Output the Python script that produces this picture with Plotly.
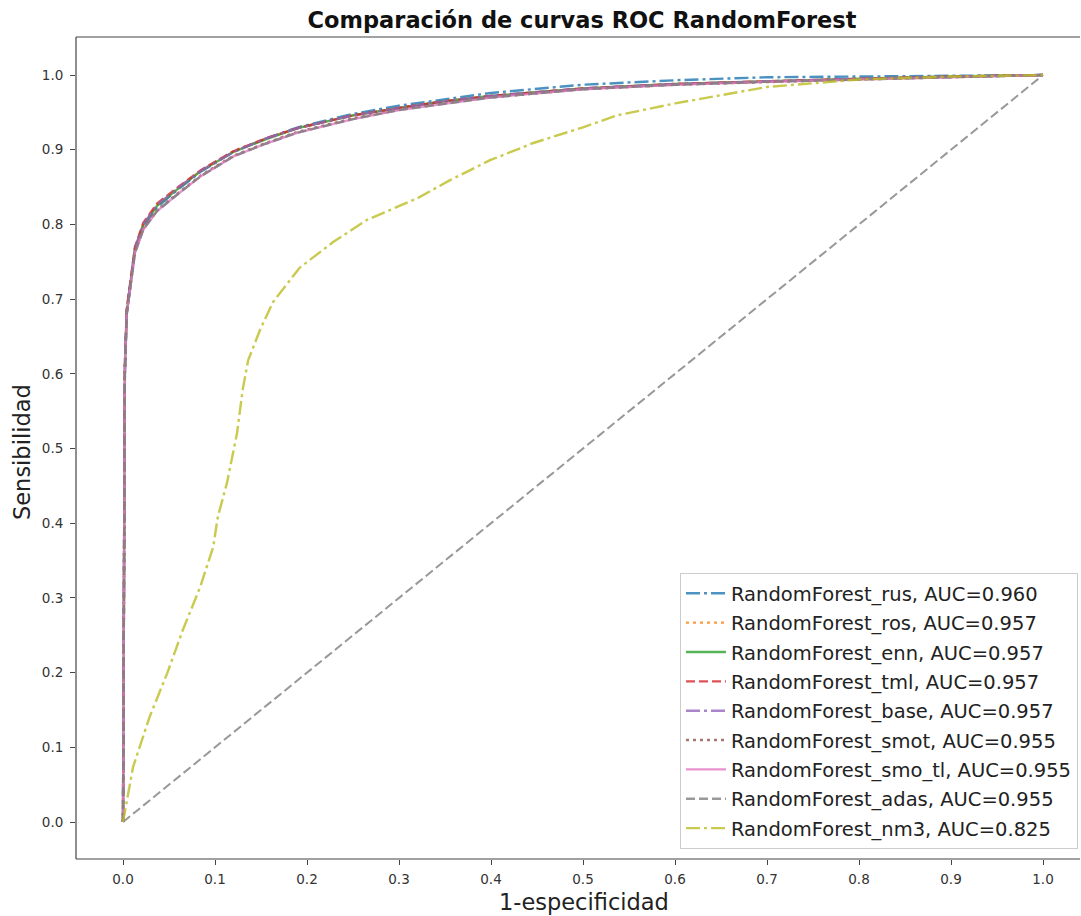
import plotly.graph_objects as go

# ROC curves for RandomForest with different resampling strategies
fpr = [0, 0.001, 0.002, 0.004, 0.008, 0.013, 0.022, 0.037, 0.06, 0.085, 0.12,
       0.155, 0.19, 0.25, 0.3, 0.35, 0.4, 0.5, 0.6, 0.7, 0.8, 0.9, 1.0]

tpr_rus = [0, 0.40, 0.60, 0.680, 0.720, 0.765, 0.797, 0.823, 0.847, 0.871, 0.897,
           0.915, 0.930, 0.948, 0.959, 0.968, 0.976, 0.987, 0.993, 0.997, 0.998, 0.999, 1.0]
tpr_ros = [0, 0.41, 0.61, 0.685, 0.722, 0.768, 0.800, 0.826, 0.849, 0.872, 0.898,
           0.915, 0.929, 0.946, 0.956, 0.965, 0.972, 0.982, 0.988, 0.992, 0.995, 0.998, 1.0]
tpr_enn = [0, 0.40, 0.60, 0.683, 0.721, 0.767, 0.799, 0.825, 0.848, 0.872, 0.897,
           0.914, 0.929, 0.946, 0.956, 0.965, 0.972, 0.982, 0.988, 0.992, 0.995, 0.998, 1.0]
tpr_tml = [0, 0.41, 0.61, 0.686, 0.724, 0.770, 0.802, 0.828, 0.850, 0.873, 0.898,
           0.915, 0.929, 0.946, 0.956, 0.965, 0.972, 0.982, 0.988, 0.992, 0.995, 0.998, 1.0]
tpr_base = [0, 0.40, 0.61, 0.684, 0.722, 0.768, 0.800, 0.826, 0.849, 0.872, 0.897,
            0.915, 0.929, 0.946, 0.956, 0.965, 0.972, 0.982, 0.988, 0.992, 0.995, 0.998, 1.0]
tpr_smot = [0, 0.40, 0.60, 0.680, 0.719, 0.763, 0.794, 0.819, 0.842, 0.866, 0.892,
            0.909, 0.924, 0.942, 0.954, 0.963, 0.970, 0.981, 0.987, 0.991, 0.994, 0.997, 1.0]
tpr_smo_tl = [0, 0.40, 0.60, 0.679, 0.718, 0.762, 0.793, 0.818, 0.841, 0.865, 0.891,
              0.908, 0.923, 0.941, 0.953, 0.962, 0.970, 0.981, 0.987, 0.991, 0.994, 0.997, 1.0]
tpr_adas = [0, 0.40, 0.60, 0.680, 0.718, 0.762, 0.793, 0.818, 0.841, 0.865, 0.891,
            0.908, 0.923, 0.941, 0.953, 0.962, 0.970, 0.981, 0.987, 0.991, 0.994, 0.997, 1.0]

fpr_nm3 = [0, 0.011, 0.029, 0.048, 0.065, 0.084, 0.098, 0.103, 0.113, 0.124, 0.130,
           0.136, 0.149, 0.163, 0.192, 0.228, 0.265, 0.32, 0.355, 0.399, 0.446, 0.5,
           0.537, 0.6, 0.7, 0.8, 0.9, 1.0]
tpr_nm3 = [0, 0.074, 0.141, 0.199, 0.257, 0.315, 0.368, 0.408, 0.454, 0.521, 0.578,
           0.618, 0.659, 0.696, 0.742, 0.776, 0.806, 0.835, 0.859, 0.886, 0.909, 0.930,
           0.946, 0.962, 0.984, 0.994, 0.998, 1.0]

models = ["RandomForest_rus", "RandomForest_ros", "RandomForest_enn", "RandomForest_tml",
          "RandomForest_base", "RandomForest_smot", "RandomForest_smo_tl",
          "RandomForest_adas", "RandomForest_nm3"]
auc_values = [0.960, 0.957, 0.957, 0.957, 0.957, 0.955, 0.955, 0.955, 0.825]

x_ticks = [0.0, 0.1, 0.2, 0.3, 0.4, 0.5, 0.6, 0.7, 0.8, 0.9, 1.0]
y_ticks = [0.0, 0.1, 0.2, 0.3, 0.4, 0.5, 0.6, 0.7, 0.8, 0.9, 1.0]

curves = [
    (fpr, tpr_rus), (fpr, tpr_ros), (fpr, tpr_enn), (fpr, tpr_tml), (fpr, tpr_base),
    (fpr, tpr_smot), (fpr, tpr_smo_tl), (fpr, tpr_adas), (fpr_nm3, tpr_nm3),
]
colors = ["#1f77b4", "#ff7f0e", "#2ca02c", "#d62728", "#9467bd",
          "#8c564b", "#e377c2", "#7f7f7f", "#bcbd22"]
DASHDOT = "14px,4px,3px,4px"
DOT = "3px,4px"
DASH = "9px,4px"
dashes = [DASHDOT, DOT, "solid", DASH, DASHDOT, DOT, "solid", DASH, DASHDOT]

FONT = "DejaVu Sans"
W, H = 1081, 916
L, R, T, B = 76, 1, 37, 57
plot_w, plot_h = W - L - R, H - T - B

fig = go.Figure()

# chance diagonal
fig.add_trace(go.Scatter(
    x=[0, 1], y=[0, 1], mode="lines", showlegend=False, hoverinfo="skip",
    line=dict(color="#7f7f7f", width=2, dash=DASH), opacity=0.8,
))

for name, auc, (xs, ys), col, dsh in zip(models, auc_values, curves, colors, dashes):
    fig.add_trace(go.Scatter(
        x=xs, y=ys, mode="lines", name=f"{name}, AUC={auc:.3f}", legendgroup=name,
        line=dict(color=col, width=2.4, dash=dsh), opacity=0.8,
    ))

spine = dict(type="line", xref="paper", yref="paper",
             line=dict(color="#444444", width=1.2), layer="above")
axis_common = dict(ticks="outside", ticklen=5, tickcolor="#444444", tickwidth=1,
                   showgrid=False, zeroline=False, showline=False,
                   tickfont=dict(family=FONT, size=13.5, color="#333333"))

fig.update_layout(
    width=W, height=H,
    margin=dict(l=L, r=R, t=T, b=B),
    paper_bgcolor="white", plot_bgcolor="white",
    font=dict(family=FONT, color="#333333"),
    title=dict(text="<b>Comparación de curvas ROC RandomForest</b>",
               x=582 / W, xanchor="center", y=1 - 20 / H, yanchor="middle",
               yref="container", font=dict(family=FONT, size=22.5, color="#111111")),
    xaxis=dict(axis_common, range=[-0.0511, 1.0402], tickvals=x_ticks,
               ticktext=[f"{v:.1f}" for v in x_ticks], ticklabelstandoff=3),
    yaxis=dict(axis_common, range=[-0.0495, 1.0509], tickvals=y_ticks,
               ticktext=[f"{v:.1f}" for v in y_ticks], ticklabelstandoff=4),
    legend=dict(x=0.998, y=0.012, xanchor="right", yanchor="bottom",
                bgcolor="rgba(255,255,255,0.8)", bordercolor="#cccccc", borderwidth=1,
                font=dict(family=FONT, size=19.5, color="#222222"),
                itemwidth=40, tracegroupgap=1),
    shapes=[
        dict(spine, x0=0, x1=0, y0=0, y1=1),
        dict(spine, x0=0, x1=1, y0=0, y1=0),
        dict(spine, x0=0, x1=1, y0=1, y1=1),
    ],
    annotations=[
        dict(text="1-especificidad", xref="paper", yref="paper",
             x=(584 - L) / plot_w, y=-(902 - (H - B)) / plot_h,
             xanchor="center", yanchor="middle", showarrow=False,
             font=dict(family=FONT, size=22.5, color="#222222")),
        dict(text="Sensibilidad", xref="paper", yref="paper",
             x=(22 - L) / plot_w, y=((H - B) - 452) / plot_h,
             xanchor="center", yanchor="middle", showarrow=False, textangle=-90,
             font=dict(family=FONT, size=22.5, color="#222222")),
    ],
)

fig.write_html("out.html")
